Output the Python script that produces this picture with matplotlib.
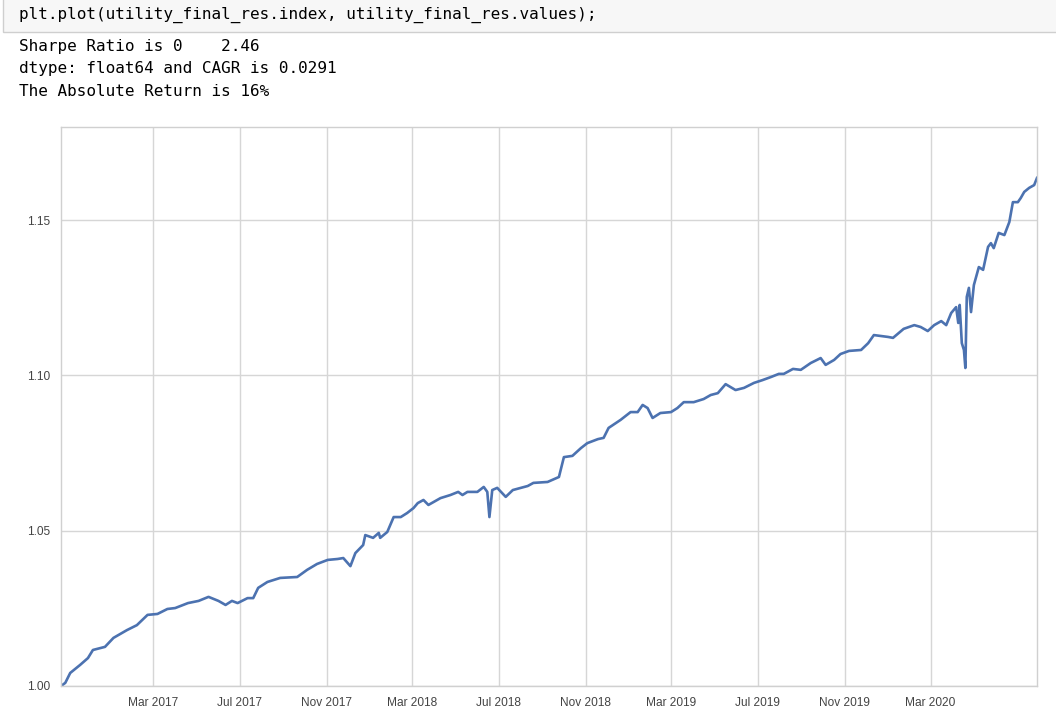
import matplotlib
matplotlib.use("Agg")
import matplotlib.pyplot as plt
import matplotlib.dates as mdates
from matplotlib.patches import Rectangle
import pandas as pd

# Notebook cell text
code_line = "plt.plot(utility_final_res.index, utility_final_res.values);"
output_lines = [
    "Sharpe Ratio is 0    2.46",
    "dtype: float64 and CAGR is 0.0291",
    "The Absolute Return is 16%",
]

# Cumulative utility returns
dates = [
    "2016-10-22", "2016-10-28", "2016-11-04", "2016-11-18", "2016-11-29", "2016-12-06",
    "2016-12-23", "2017-01-04", "2017-01-23", "2017-02-06", "2017-02-21", "2017-03-07",
    "2017-03-21", "2017-04-01", "2017-04-19", "2017-05-04", "2017-05-18", "2017-06-01",
    "2017-06-11", "2017-06-20", "2017-06-28", "2017-07-12", "2017-07-20", "2017-07-27",
    "2017-08-09", "2017-08-27", "2017-09-20", "2017-10-04", "2017-10-18", "2017-11-02",
    "2017-11-16", "2017-11-24", "2017-12-04", "2017-12-11", "2017-12-22", "2017-12-25",
    "2018-01-05", "2018-01-13", "2018-01-15", "2018-01-25", "2018-02-03", "2018-02-13",
    "2018-02-22", "2018-03-03", "2018-03-09", "2018-03-17", "2018-03-24", "2018-04-10",
    "2018-04-24", "2018-05-05", "2018-05-11", "2018-05-18", "2018-06-01", "2018-06-10",
    "2018-06-15", "2018-06-18", "2018-06-22", "2018-06-29", "2018-07-11", "2018-07-21",
    "2018-08-01", "2018-08-11", "2018-08-19", "2018-09-08", "2018-09-24", "2018-10-01",
    "2018-10-13", "2018-10-25", "2018-11-03", "2018-11-18", "2018-11-26", "2018-12-03",
    "2018-12-20", "2019-01-03", "2019-01-13", "2019-01-20", "2019-01-27", "2019-02-03",
    "2019-02-14", "2019-03-01", "2019-03-10", "2019-03-19", "2019-04-02", "2019-04-16",
    "2019-04-26", "2019-05-06", "2019-05-17", "2019-05-31", "2019-06-12", "2019-06-26",
    "2019-07-08", "2019-07-20", "2019-07-31", "2019-08-07", "2019-08-20", "2019-08-31",
    "2019-09-14", "2019-09-28", "2019-10-05", "2019-10-17", "2019-10-26", "2019-11-07",
    "2019-11-24", "2019-12-04", "2019-12-12", "2020-01-01", "2020-01-08", "2020-01-23",
    "2020-02-07", "2020-02-16", "2020-02-26", "2020-03-06", "2020-03-16", "2020-03-23",
    "2020-03-30", "2020-04-06", "2020-04-09", "2020-04-11", "2020-04-14", "2020-04-17",
    "2020-04-19", "2020-04-21", "2020-04-24", "2020-04-27", "2020-05-01", "2020-05-08",
    "2020-05-14", "2020-05-21", "2020-05-25", "2020-05-29", "2020-06-05", "2020-06-13",
    "2020-06-20", "2020-06-25", "2020-07-02", "2020-07-06", "2020-07-11", "2020-07-18",
    "2020-07-25", "2020-07-29",
]
values = [
    1.0000, 1.0010, 1.0042, 1.0068, 1.0090, 1.0116,
    1.0126, 1.0155, 1.0180, 1.0196, 1.0229, 1.0232,
    1.0248, 1.0251, 1.0267, 1.0274, 1.0287, 1.0274,
    1.0261, 1.0274, 1.0267, 1.0283, 1.0283, 1.0316,
    1.0335, 1.0348, 1.0351, 1.0374, 1.0393, 1.0406,
    1.0409, 1.0412, 1.0386, 1.0428, 1.0454, 1.0486,
    1.0477, 1.0493, 1.0477, 1.0496, 1.0544, 1.0544,
    1.0557, 1.0573, 1.0589, 1.0599, 1.0583, 1.0605,
    1.0615, 1.0625, 1.0615, 1.0625, 1.0625, 1.0641,
    1.0625, 1.0544, 1.0631, 1.0638, 1.0609, 1.0631,
    1.0638, 1.0644, 1.0654, 1.0657, 1.0673, 1.0737,
    1.0741, 1.0766, 1.0782, 1.0795, 1.0799, 1.0831,
    1.0857, 1.0882, 1.0882, 1.0905, 1.0895, 1.0863,
    1.0879, 1.0882, 1.0895, 1.0914, 1.0914, 1.0924,
    1.0937, 1.0943, 1.0972, 1.0953, 1.0960, 1.0976,
    1.0985, 1.0995, 1.1005, 1.1005, 1.1021, 1.1018,
    1.1040, 1.1056, 1.1034, 1.1050, 1.1069, 1.1079,
    1.1082, 1.1104, 1.1130, 1.1124, 1.1121, 1.1150,
    1.1162, 1.1156, 1.1143, 1.1162, 1.1175, 1.1162,
    1.1201, 1.1220, 1.1169, 1.1227, 1.1104, 1.1082,
    1.1024, 1.1253, 1.1282, 1.1204, 1.1291, 1.1349,
    1.1340, 1.1414, 1.1426, 1.1410, 1.1459, 1.1452,
    1.1494, 1.1558, 1.1558, 1.1571, 1.1591, 1.1604,
    1.1613, 1.1636,
]
x_ticks = ["2017-03-01", "2017-07-01", "2017-11-01", "2018-03-01", "2018-07-01",
           "2018-11-01", "2019-03-01", "2019-07-01", "2019-11-01", "2020-03-01"]
y_ticks = [1.00, 1.05, 1.10, 1.15]

utility_final_res = pd.Series(values, index=pd.to_datetime(dates))

W, H = 1056, 714
fig = plt.figure(figsize=(W / 100, H / 100), dpi=100)
fig.patch.set_facecolor("white")

# code cell box
fig.patches.append(Rectangle((3 / W, 1 - 32 / H), 1.2, 40 / H, transform=fig.transFigure,
                             facecolor="#f7f7f7", edgecolor="#cfcfcf", linewidth=1))
mono = ["DejaVu Sans Mono"]
fig.text(19 / W, 1 - 15 / H, code_line, family=mono, fontsize=11.5, color="#000000", va="center")
for i, line in enumerate(output_lines):
    fig.text(19 / W, 1 - (46 + i * 23) / H, line, family=mono, fontsize=11.5, color="#000000", va="center")

# the chart
ax = fig.add_axes([61 / W, 1 - 686 / H, (1037 - 61) / W, (686 - 127) / H])
ax.plot(utility_final_res.index, utility_final_res.values, color="#4c72b0", linewidth=1.9)

ax.set_xlim(utility_final_res.index[0], utility_final_res.index[-1])
ax.set_ylim(1.0, 1.18)
ax.set_yticks(y_ticks)
ax.yaxis.set_major_formatter(plt.FormatStrFormatter("%.2f"))
ax.set_xticks(pd.to_datetime(x_ticks))
ax.xaxis.set_major_formatter(mdates.DateFormatter("%b %Y"))

ax.grid(True, color="#d6d6d6", linewidth=1)
ax.set_axisbelow(True)
for s in ax.spines.values():
    s.set_color("#d0d0d0")
    s.set_linewidth(1)
ax.tick_params(length=0, labelsize=8.6, labelcolor="#444444", pad=8)
for lab in ax.get_xticklabels() + ax.get_yticklabels():
    lab.set_family("Liberation Sans")

fig.savefig("out.png", dpi=100)
